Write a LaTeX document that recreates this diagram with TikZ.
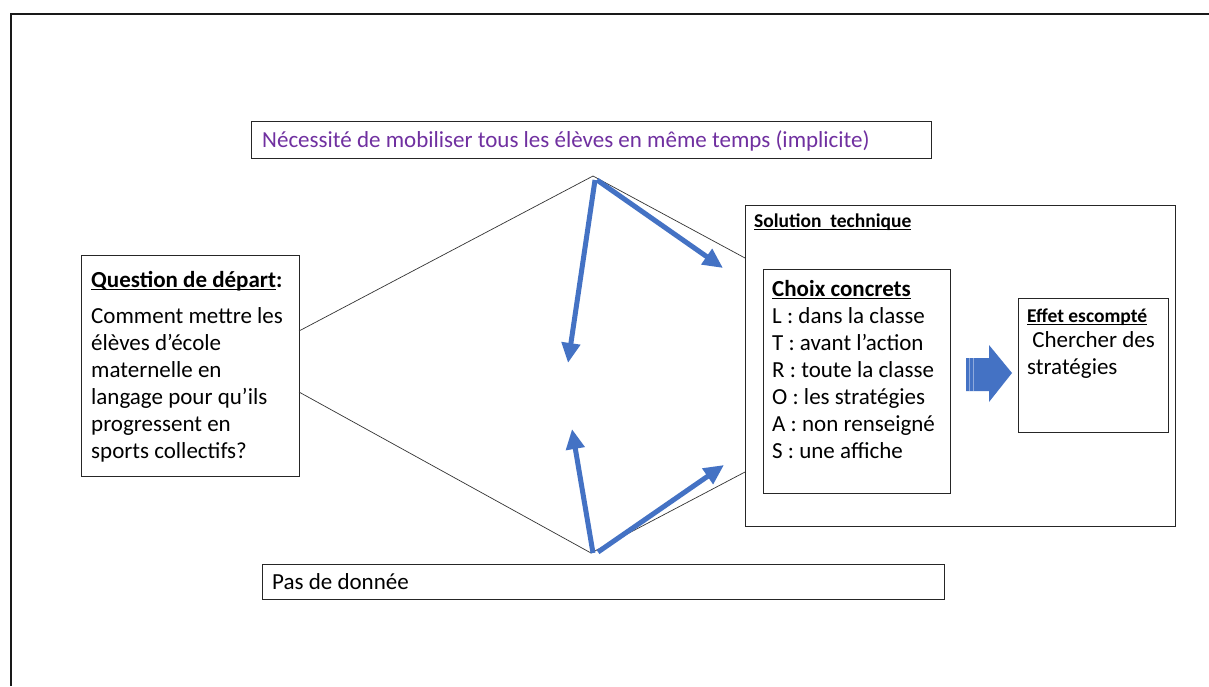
\documentclass[tikz,border=0pt]{standalone}
\usepackage{fontspec}
\usetikzlibrary{arrows.meta}
\setmainfont{Carlito}
\definecolor{cblue}{HTML}{4472C4}
\definecolor{cpurple}{HTML}{7030A0}
\newcommand\myul[1]{\setbox0\hbox{#1}\rlap{\rule[-3pt]{\wd0}{1.2pt}}\box0}
\begin{document}
\begin{tikzpicture}[x=1pt,y=-1pt,
  box/.style={draw=black!85,line width=1pt,inner sep=0pt,outer sep=0pt,anchor=north west},
  txt/.style={inner sep=0pt,anchor=base west,align=left,font=\fontsize{23}{27}\selectfont},
  smalltxt/.style={inner sep=0pt,anchor=base west,font=\fontsize{19.5}{22}\selectfont\bfseries},
  thin/.style={draw=black!80,line width=0.7pt},
  barrow/.style={draw=cblue,line width=5pt,-{Triangle[length=20pt,width=18pt]}}]
\useasboundingbox (0,0) rectangle (1209,686);
\fill[white] (0,0) rectangle (1209,686);
% outer frame
\draw[line width=2.5pt,black!90] (11,686) -- (11,14) -- (1209,14);
% boxes
\node[box,minimum width=680pt,minimum height=37pt] (top) at (251,121) {};
\node[txt,text=cpurple] (toptxt) at (262,147) {Nécessité de mobiliser tous les élèves en même temps (implicite)};
\node[box,minimum width=218pt,minimum height=221pt] (left) at (81,255) {};
\node[txt] (lefttxt) at (91,458) {\textbf{\myul{Question de départ}:}\\[9pt]Comment mettre les\\élèves d’école\\maternelle en\\langage pour qu’ils\\progressent en\\sports collectifs?};
\node[box,minimum width=682pt,minimum height=35pt] (bot) at (262,564) {};
\node[txt] (bottxt) at (272,589) {Pas de donnée};
\node[box,minimum width=430pt,minimum height=321pt] (sol) at (745,205) {};
\node[smalltxt] (soltxt) at (754,227) {\myul{Solution\ \ technique}};
\node[box,minimum width=187pt,minimum height=224pt] (choix) at (763,269) {};
\node[txt] (choixtxt) at (772,458) {\textbf{\myul{Choix concrets}}\\L : dans la classe\\T : avant l’action\\R : toute la classe\\O : les stratégies\\A : non renseigné\\S : une affiche};
\node[box,minimum width=150pt,minimum height=134pt] (effet) at (1018,298) {};
\node[smalltxt] (effettxt) at (1027,322) {\myul{Effet escompté}};
\node[txt] (effetbody) at (1027,374) {\ Chercher des\\stratégies};
% coordinates
\coordinate (qa) at (299,331);
\coordinate (qb) at (299,392);
\coordinate (apt) at (593,176);
\coordinate (apb) at (591,553);
\coordinate (sa) at (745,258);
\coordinate (sb) at (745,472);
\coordinate (a1s) at (595,180);
\coordinate (a1e) at (568,363);
\coordinate (a2s) at (597,180);
\coordinate (a2e) at (723,268);
\coordinate (a3s) at (593,553);
\coordinate (a3e) at (572,429);
\coordinate (a4s) at (598,552);
\coordinate (a4e) at (724,465);
% thin lines
\draw[thin] (qa) -- (apt) -- (sa);
\draw[thin] (qb) -- (apb) -- (sb);
% blue arrows
\draw[barrow] (a1s) -- (a1e);
\draw[barrow] (a2s) -- (a2e);
\draw[barrow] (a3s) -- (a3e);
\draw[barrow] (a4s) -- (a4e);
% block arrow
\fill[cblue] (966,358) -- (989,358) -- (989,345) -- (1012,373) -- (989,402) -- (989,391) -- (966,391) -- cycle;
\draw[cblue!60,line width=0.8pt] (969.5,358) -- (969.5,391) (973,358) -- (973,391);
\end{tikzpicture}
\end{document}
